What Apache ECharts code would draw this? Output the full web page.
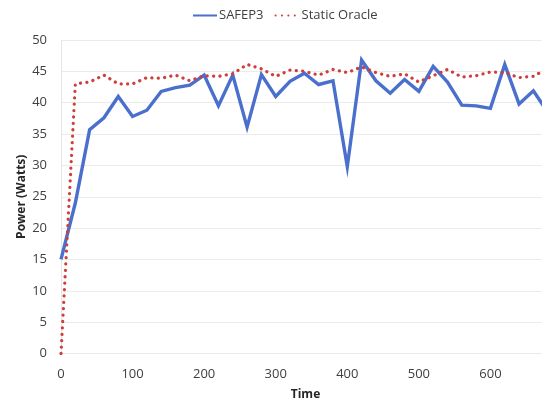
<!DOCTYPE html>
<html>
<head>
<meta charset="utf-8">
<script src="https://cdn.jsdelivr.net/npm/echarts@6/dist/echarts.min.js"></script>
<style>
  html, body { margin: 0; padding: 0; background: #ffffff; }
  #chart { width: 542px; height: 409px; }
</style>
</head>
<body>
<div id="chart"></div>
<script>
// Sampling times (every 20 time units)
const times = [0, 20, 40, 60, 80, 100, 120, 140, 160, 180, 200, 220, 240, 260, 280, 300, 320,
  340, 360, 380, 400, 420, 440, 460, 480, 500, 520, 540, 560, 580, 600, 620, 640, 660, 680];

// Measured power (Watts)
const safep3 = [15, 24, 35.7, 37.6, 41, 37.8, 38.8, 41.8, 42.4, 42.8, 44.4, 39.5, 44.4, 36.1, 44.5,
  41, 43.4, 44.7, 42.9, 43.5, 29.8, 46.8, 43.5, 41.5, 43.7, 41.8, 45.8, 43.3, 39.6, 39.5, 39.1,
  46.1, 39.8, 41.9, 38.5];

const staticOracle = [0, 43, 43.3, 44.4, 43.0, 43.0, 44.0, 43.9, 44.4, 43.5, 44.3, 44.2, 44.6, 46.1,
  45.4, 44.2, 45.2, 45.0, 44.4, 45.3, 44.8, 45.7, 44.8, 44.2, 44.6, 43.3, 44.3, 45.3, 44.1, 44.3,
  44.9, 44.8, 44.0, 44.2, 45.5];

const xTicks = { min: 0, max: 700, interval: 100 };
const yTicks = { min: 0, max: 50, interval: 5 };

const pairs = (xs, ys) => xs.map((x, i) => [x, ys[i]]);

const FONT = '"Open Sans", "DejaVu Sans", sans-serif';
const chart = echarts.init(document.getElementById('chart'), null, { renderer: 'canvas' });

chart.setOption({
  animation: false,
  backgroundColor: '#ffffff',
  textStyle: { fontFamily: FONT },
  legend: {
    left: 187,
    top: 4,
    itemWidth: 24,
    itemHeight: 10,
    itemGap: 11,
    itemStyle: { opacity: 0 },
    textStyle: { fontFamily: FONT, fontSize: 13, color: '#404040', padding: [0, 0, 0, -3] },
    data: ['SAFEP3', 'Static Oracle']
  },
  // plot area runs past the right edge of the canvas (700 lies outside the view)
  grid: { left: 61, top: 40, right: -20, bottom: 55.5, containLabel: false, outerBoundsMode: 'none' },
  xAxis: {
    type: 'value',
    min: xTicks.min, max: xTicks.max, interval: xTicks.interval,
    name: 'Time',
    nameLocation: 'middle',
    nameGap: 35,
    nameMoveOverlap: false,
    nameTextStyle: { fontFamily: FONT, fontSize: 12, fontWeight: 'bold', color: '#262626', padding: [0, 12, 0, 0] },
    axisLine: { show: false },
    axisTick: { show: false },
    splitLine: { show: false },
    axisLabel: { fontFamily: FONT, fontSize: 13, color: '#404040', margin: 14 }
  },
  yAxis: {
    type: 'value',
    min: yTicks.min, max: yTicks.max, interval: yTicks.interval,
    name: 'Power (Watts)',
    nameLocation: 'middle',
    nameGap: 33,
    nameMoveOverlap: false,
    nameTextStyle: { fontFamily: FONT, fontSize: 12, fontWeight: 'bold', color: '#262626' },
    axisLine: { show: true, lineStyle: { color: '#e6e6e6', width: 1 } },
    axisTick: { show: false },
    splitLine: { show: true, lineStyle: { color: '#ebebeb', width: 1 } },
    axisLabel: { fontFamily: FONT, fontSize: 13, color: '#404040', margin: 14 }
  },
  series: [
    {
      name: 'SAFEP3',
      type: 'line',
      data: pairs(times, safep3),
      symbol: 'none',
      lineStyle: { color: '#4a6fcc', width: 3.4, join: 'miter' },
      itemStyle: { color: '#4a6fcc' },
      z: 2
    },
    {
      name: 'Static Oracle',
      type: 'line',
      data: pairs(times, staticOracle),
      symbol: 'none',
      lineStyle: { color: '#cc3f3a', width: 3.2, type: [0.1, 6.3], cap: 'round' },
      itemStyle: { color: '#cc3f3a' },
      z: 3
    }
  ]
});
</script>
</body>
</html>
